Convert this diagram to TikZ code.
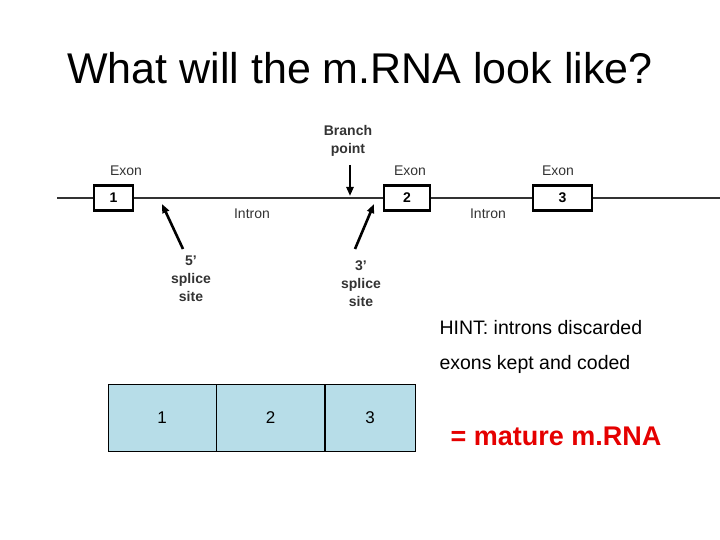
\documentclass[tikz,border=0pt]{standalone}
\usepackage{fontspec}
\setmainfont{Liberation Sans}
\usetikzlibrary{arrows.meta}
\begin{document}
\begin{tikzpicture}[x=1pt,y=-1pt,
  exon/.style={draw,line width=2.2pt,minimum width=#1,minimum height=25pt,inner sep=0pt,font=\bfseries\fontsize{14}{16}\selectfont},
  lbl/.style={font=\fontsize{14}{16}\selectfont,text=black!80},
  blbl/.style={font=\bfseries\fontsize{14}{18}\selectfont,align=center,text=black!80},
  arr/.style={-{Triangle[length=9pt,width=7pt]},line width=2.6pt},
  mbox/.style={draw,fill=mrnafill,minimum width=#1,minimum height=67pt,inner sep=0pt,anchor=north west,font=\fontsize{17}{20}\selectfont},
  hint/.style={font=\fontsize{19.5}{22}\selectfont,anchor=west}]
\definecolor{mrnafill}{HTML}{B7DDE8}
\useasboundingbox (0,0) rectangle (720,540);
\node (title) at (360,68) {\fontsize{43}{50}\selectfont What will the m.RNA look like?};
\coordinate (L) at (57,198);
\coordinate (R) at (720,198);
\draw[line width=1.6pt,black!80] (L) -- (R);
\node[exon=39pt,fill=white] (e1) at (113.5,198) {1};
\node[exon=46pt,fill=white] (e2) at (407,198) {2};
\node[exon=59pt,fill=white] (e3) at (562.5,198) {3};
\node[lbl] (x1) at (126,171) {Exon};
\node[lbl] (x2) at (410,171) {Exon};
\node[lbl] (x3) at (558,171) {Exon};
\node[lbl] (i1) at (252,214) {Intron};
\node[lbl] (i2) at (488,214) {Intron};
\node[blbl] (bp) at (348,141) {Branch\\point};
\coordinate (bpt) at (350,196);
\draw[arr] (350,165) -- (bpt);
\node[blbl] (s5) at (191,279) {5'\\splice\\site};
\coordinate (s5t) at (162,204);
\draw[arr] (183,249) -- (s5t);
\node[blbl] (s3) at (361,284) {3'\\splice\\site};
\coordinate (s3t) at (374,204);
\draw[arr] (355,249) -- (s3t);
\node[hint] (h1) at (436,328) {HINT: introns discarded};
\node[hint] (h2) at (436,364) {exons kept and coded};
\node[mbox=108pt] (m1) at (108,384) {1};
\node[mbox=108pt] (m2) at (m1.north east) {2};
\node[mbox=90pt] (m3) at (m2.north east) {3};
\node[font=\bfseries\fontsize{27}{30}\selectfont,text=red!90!black,anchor=west] (mat) at (447,436) {= mature m.RNA};
\end{tikzpicture}
\end{document}
